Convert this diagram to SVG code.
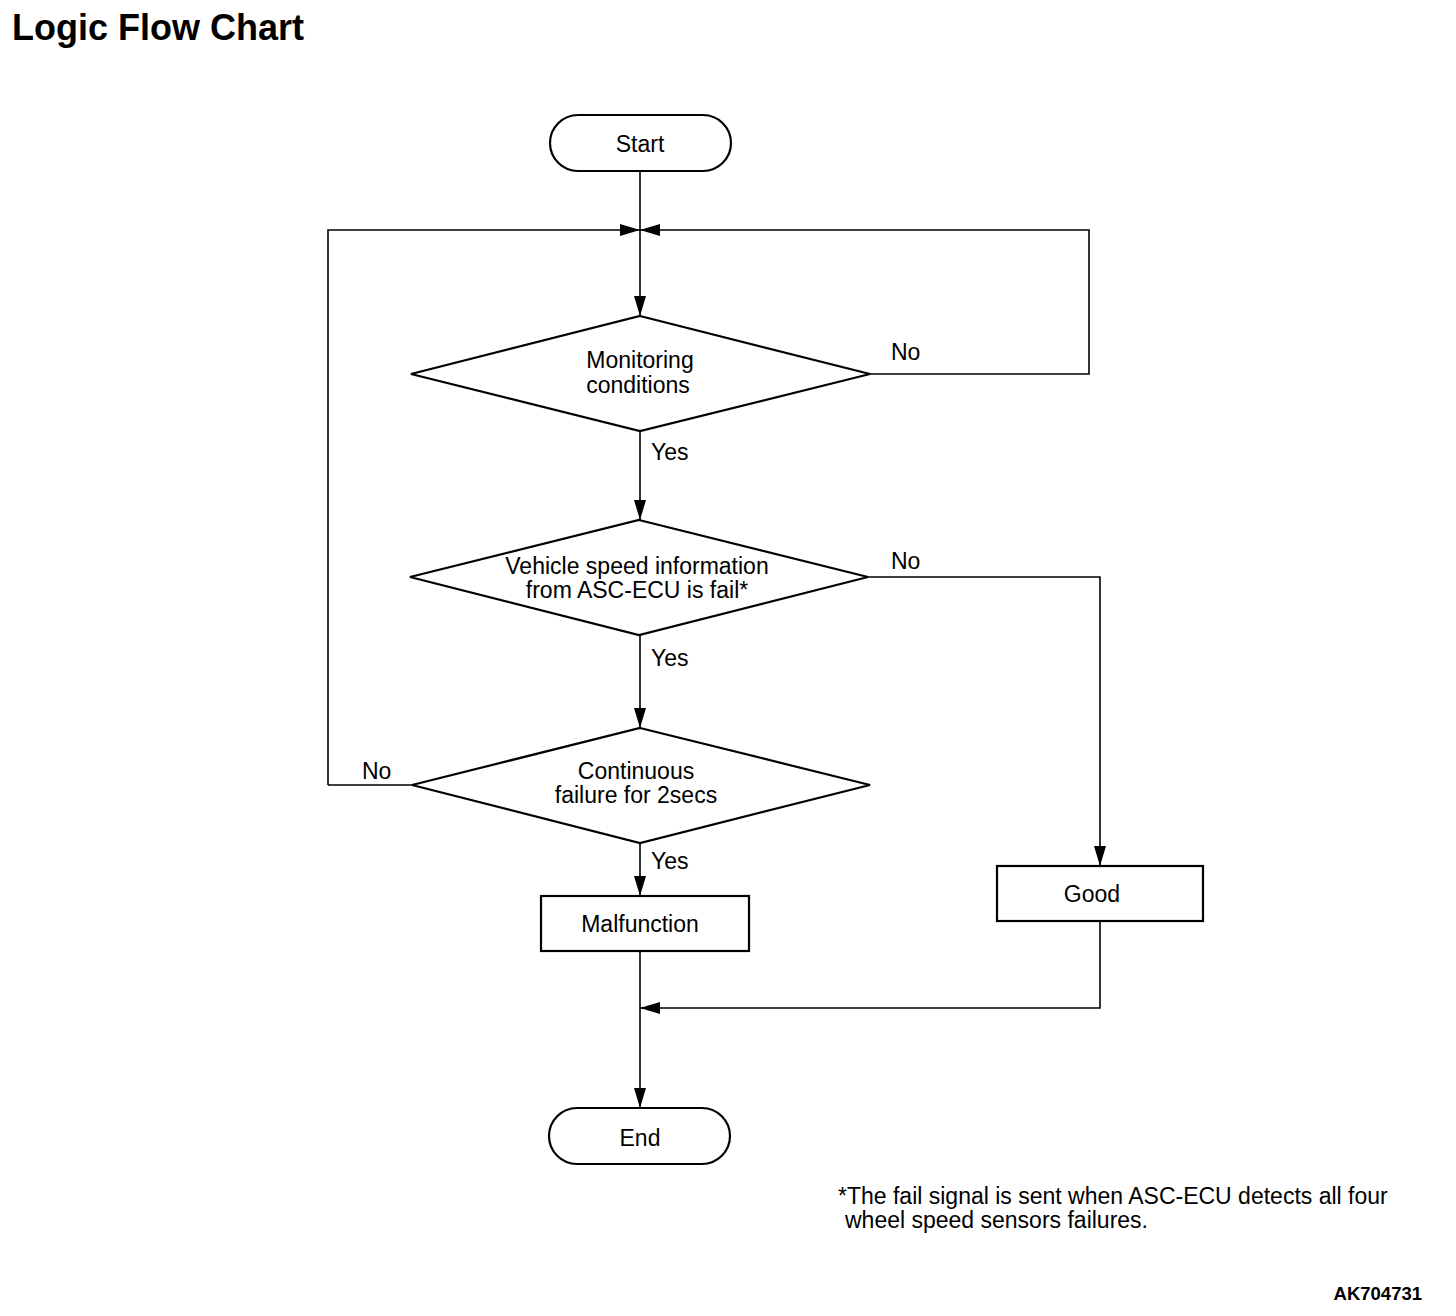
<svg xmlns="http://www.w3.org/2000/svg" width="1456" height="1316" viewBox="0 0 1456 1316">
<defs>
<marker id="ah" viewBox="0 0 20 12" refX="20" refY="6" markerWidth="20" markerHeight="12" markerUnits="userSpaceOnUse" orient="auto">
<path d="M0,0 L20,6 L0,12 Z" fill="#000"/>
</marker>
</defs>
<style>
.shape{fill:#fff;stroke:#000;stroke-width:2.2}
.conn{fill:none;stroke:#000;stroke-width:1.6}
text{font-family:"Liberation Sans",Arial,sans-serif;fill:#000}
.t{font-size:23px;text-anchor:middle}
.lbl{font-size:23px}
.fn{font-size:23px}
</style>
<rect width="1456" height="1316" fill="#fff"/>
<text x="12" y="40" font-size="36" font-weight="bold">Logic Flow Chart</text>
<g id="connectors">
<path class="conn" d="M640,171 V316" marker-end="url(#ah)"/>
<path class="conn" d="M328,785 H412"/>
<path class="conn" d="M328,785 V230 H640" marker-end="url(#ah)"/>
<path class="conn" d="M870,374 H1089 V230 H640" marker-end="url(#ah)"/>
<path class="conn" d="M640,431 V520" marker-end="url(#ah)"/>
<path class="conn" d="M868,577 H1100 V866" marker-end="url(#ah)"/>
<path class="conn" d="M640,635 V728" marker-end="url(#ah)"/>
<path class="conn" d="M640,843 V896" marker-end="url(#ah)"/>
<path class="conn" d="M640,951 V1108" marker-end="url(#ah)"/>
<path class="conn" d="M1100,921 V1008 H640" marker-end="url(#ah)"/>
</g>
<g id="start">
<rect class="shape" x="550" y="115" width="181" height="56" rx="28"/>
<text class="t" x="640" y="152">Start</text>
</g>
<g id="monitoring">
<polygon class="shape" points="640,316 870,374 640,431 411,374"/>
<text class="t" x="640" y="368">Monitoring</text>
<text class="t" x="638" y="393">conditions</text>
</g>
<g id="vehicle-speed">
<polygon class="shape" points="639,520 868,577 639,635 410,577"/>
<text class="t" x="637" y="574">Vehicle speed information</text>
<text class="t" x="637" y="598">from ASC-ECU is fail*</text>
</g>
<g id="continuous">
<polygon class="shape" points="640,728 870,785 640,843 412,785"/>
<text class="t" x="636" y="779">Continuous</text>
<text class="t" x="636" y="803">failure for 2secs</text>
</g>
<g id="malfunction">
<rect class="shape" x="541" y="896" width="208" height="55"/>
<text class="t" x="640" y="932">Malfunction</text>
</g>
<g id="good">
<rect class="shape" x="997" y="866" width="206" height="55"/>
<text class="t" x="1092" y="902">Good</text>
</g>
<g id="end">
<rect class="shape" x="549" y="1108" width="181" height="56" rx="28"/>
<text class="t" x="640" y="1146">End</text>
</g>
<g id="labels">
<text class="lbl" x="891" y="360">No</text>
<text class="lbl" x="651" y="460">Yes</text>
<text class="lbl" x="891" y="569">No</text>
<text class="lbl" x="651" y="666">Yes</text>
<text class="lbl" x="362" y="779">No</text>
<text class="lbl" x="651" y="869">Yes</text>
</g>
<g id="footnote">
<text class="fn" x="838" y="1204">*The fail signal is sent when ASC-ECU detects all four</text>
<text class="fn" x="845" y="1228">wheel speed sensors failures.</text>
<text font-size="18.5" font-weight="bold" x="1422" y="1300" text-anchor="end">AK704731</text>
</g>
</svg>
